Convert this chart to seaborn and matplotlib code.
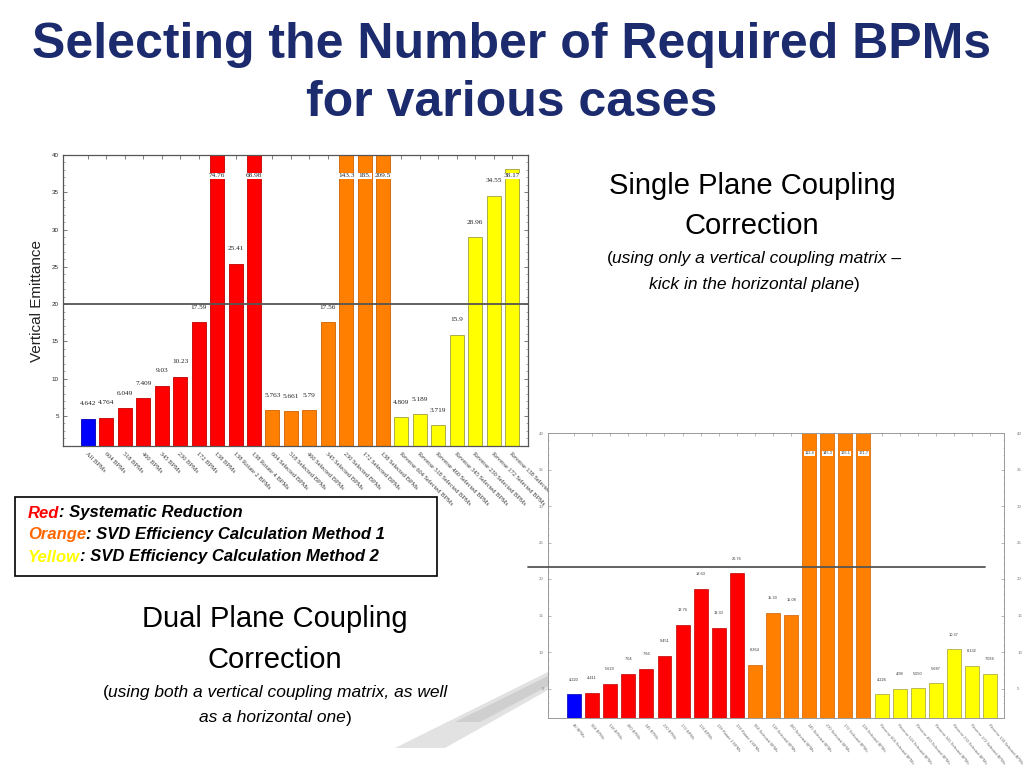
import matplotlib
matplotlib.use("Agg")
import matplotlib.pyplot as plt
import seaborn as sns
import pandas as pd
from matplotlib.patches import Polygon, Rectangle
from matplotlib.ticker import MultipleLocator

sns.set_style("white")
plt.rcParams["font.family"] = ["Liberation Sans", "DejaVu Sans"]

# ---------------- data ----------------
categories = [
    "All BPMs", "604 BPMs", "518 BPMs", "460 BPMs", "345 BPMs", "230 BPMs",
    "172 BPMs", "138 BPMs", "138 Rotate 2 BPMs", "138 Rotate 4 BPMs",
    "604 Selected BPMs", "518 Selected BPMs", "460 Selected BPMs",
    "345 Selected BPMs", "230 Selected BPMs", "172 Selected BPMs",
    "138 Selected BPMs",
    "Reverse 604 Selected BPMs", "Reverse 518 Selected BPMs",
    "Reverse 460 Selected BPMs", "Reverse 345 Selected BPMs",
    "Reverse 230 Selected BPMs", "Reverse 172 Selected BPMs",
    "Reverse 138 Selected BPMs",
]
groups = ["All"] + ["Red"] * 9 + ["Orange"] * 7 + ["Yellow"] * 7

single_values = [4.642, 4.764, 6.049, 7.409, 9.03, 10.23, 17.59, 74.76, 25.41,
                 68.98, 5.763, 5.661, 5.79, 17.56, 143.3, 185.0, 209.5,
                 4.809, 5.189, 3.719, 15.9, 28.96, 34.55, 38.17]
single_labels = ["4.642", "4.764", "6.049", "7.409", "9.03", "10.23", "17.59",
                 "74.76", "25.41", "68.98", "5.763", "5.661", "5.79", "17.56",
                 "143.3", "185.", "209.5", "4.809", "5.189", "3.719", "15.9",
                 "28.96", "34.55", "38.17"]

dual_values = [4.22, 4.411, 5.623, 7.04, 7.66, 9.451, 13.76, 18.63, 13.3,
               20.76, 8.26, 15.33, 15.08, 112.4, 145.3, 165.1, 171.7,
               4.226, 4.98, 5.05, 5.687, 10.37, 8.132, 7.034]
dual_labels = ["4.220", "4.411", "5.623", "7.04", "7.66", "9.451", "13.76",
               "18.63", "13.30", "20.76", "8.264", "15.33", "15.08", "112.4",
               "145.3", "165.1", "171.7", "4.226", "4.98", "5.050", "5.687",
               "10.37", "8.132", "7.034"]

y_range = [1, 40]
y_ticks = [5, 10, 15, 20, 25, 30, 35, 40]
single_threshold = 20
dual_threshold = 21.6

palette = {"All": "#0000ff", "Red": "#ff0000", "Orange": "#ff8000", "Yellow": "#ffff00"}
edges = {"All": "#0000b0", "Red": "#c00000", "Orange": "#d06000", "Yellow": "#a0a040"}

W, H = 1024, 768
fig = plt.figure(figsize=(W / 100, H / 100), dpi=100)


def P(x, y):
    return x / W, 1 - y / H


def color_edges(ax, lw):
    for p in ax.patches:
        hx = matplotlib.colors.to_hex(p.get_facecolor())
        for g, c in palette.items():
            if hx == c:
                p.set_edgecolor(edges[g])
                p.set_linewidth(lw)


# ---------- top chart (single plane) ----------
fam_lab = ["Liberation Serif", "DejaVu Serif"]
ax1 = fig.add_axes([63 / W, 1 - 445.7 / H, (528 - 63) / W, (445.7 - 155) / H])
df1 = pd.DataFrame({"category": categories, "value": single_values, "group": groups})
sns.barplot(data=df1, x="category", y="value", hue="group", order=categories,
            hue_order=["All", "Red", "Orange", "Yellow"], palette=palette,
            dodge=False, width=0.76, saturation=1, legend=False, ax=ax1)
ax1.set_ylim(*y_range)
ax1.set_xlim(-1.36, 23.87)
color_edges(ax1, 0.6)
for i, (v, s) in enumerate(zip(single_values, single_labels)):
    y = min(v + 2.0, 37.2)
    kw = {}
    if v + 2.0 > 37.2:
        kw["bbox"] = dict(boxstyle="square,pad=0.1", fc="white", ec="none")
    ax1.text(i, y, s, ha="center", va="center", fontsize=5.2, family=fam_lab,
             color="#222222", **kw)
ax1.axhline(single_threshold, color="#555555", lw=1.3, zorder=5)
ax1.set_xlabel("")
ax1.set_ylabel("")
ax1.set_yticks(y_ticks)
ax1.yaxis.set_minor_locator(MultipleLocator(1))
ax1.set_xticks(range(len(categories)))
ax1.set_xticklabels(categories, rotation=-45, ha="left", va="top",
                    rotation_mode="anchor", fontsize=4.6, family=fam_lab,
                    color="#333333")
ax1.tick_params(axis="x", which="both", direction="in", top=True, bottom=True,
                length=3, width=0.6, color="#666666", pad=4)
ax1.tick_params(axis="y", which="major", direction="in", left=True, right=True,
                length=3, width=0.6, color="#666666", labelsize=4.5, pad=3)
ax1.tick_params(axis="y", which="minor", direction="in", left=True, right=True,
                length=1.5, width=0.5, color="#888888")
for sp in ax1.spines.values():
    sp.set_color("#555555")
    sp.set_linewidth(0.9)
fig.text(*P(37, 301), "Vertical Emittance", rotation=90, ha="center",
         va="center", fontsize=11, color="#222222")

# ---------- bottom chart (dual plane) ----------
ax2 = fig.add_axes([548 / W, 1 - 717.7 / H, (1004 - 548) / W, (717.7 - 433) / H])
df2 = pd.DataFrame({"category": categories, "value": dual_values, "group": groups})
sns.barplot(data=df2, x="category", y="value", hue="group", order=categories,
            hue_order=["All", "Red", "Orange", "Yellow"], palette=palette,
            dodge=False, width=0.77, saturation=1, legend=False, ax=ax2)
ax2.set_ylim(*y_range)
ax2.set_xlim(-1.44, 23.77)
color_edges(ax2, 0.5)
for i, (v, s) in enumerate(zip(dual_values, dual_labels)):
    y = min(v + 2.0, 37.2)
    kw = {}
    if v + 2.0 > 37.2:
        kw["bbox"] = dict(boxstyle="square,pad=0.15", fc="white", ec="none")
    ax2.text(i, y, s, ha="center", va="center", fontsize=2.8, color="#333333", **kw)
ax2.axhline(dual_threshold, xmin=(528 - 548) / 456, xmax=(985 - 548) / 456,
            color="#555555", lw=1.3, zorder=5, clip_on=False)
ax2.set_xlabel("")
ax2.set_ylabel("")
ax2.set_yticks(y_ticks)
ax2.yaxis.set_minor_locator(MultipleLocator(1))
ax2.set_xticks(range(len(categories)))
ax2.set_xticklabels(categories, rotation=-50, ha="left", va="top",
                    rotation_mode="anchor", fontsize=2.9, color="#666666")
ax2.tick_params(axis="x", which="both", direction="in", top=True, bottom=True,
                length=2, width=0.5, color="#999999", pad=4)
ax2.tick_params(axis="y", which="major", direction="in", left=True, right=True,
                labelright=True, length=2, width=0.5, color="#999999",
                labelsize=3.2, labelcolor="#777777", pad=3)
ax2.tick_params(axis="y", which="minor", direction="in", left=True, right=True,
                length=1, width=0.4, color="#aaaaaa")
for sp in ax2.spines.values():
    sp.set_color("#999999")
    sp.set_linewidth(0.7)
# right-hand labels sit near the slide edge
for tick in ax2.yaxis.get_major_ticks():
    tick.label2.set_x(1.0 + 9 / 456)
    tick.label2.set_ha("left")

# decorative grey swoosh behind the lower chart
fig.patches.append(Polygon([P(395, 748), P(548, 672), P(548, 690), P(445, 748)],
                           closed=True, transform=fig.transFigure,
                           facecolor="#e2e2e2", edgecolor="none", zorder=-1))
fig.patches.append(Polygon([P(455, 722), P(548, 676), P(548, 686), P(480, 722)],
                           closed=True, transform=fig.transFigure,
                           facecolor="#cfcfcf", edgecolor="none", zorder=-1))

# ---------- title ----------
title_color = "#1c2b6e"
fig.text(*P(512, 45), "Selecting the Number of Required BPMs", ha="center",
         va="center", fontsize=36, fontweight="bold", color=title_color)
fig.text(*P(512, 103), "for various cases", ha="center", va="center",
         fontsize=36, fontweight="bold", color=title_color)

renderer = fig.canvas.get_renderer()


def segments(parts, x, y, size, align="left"):
    """parts: list of (text, color, style, weight)"""
    texts, widths = [], []
    for s, c, st, wt in parts:
        t = fig.text(0, 0, s, fontsize=size, color=c, style=st, fontweight=wt,
                     va="center", ha="left")
        widths.append(t.get_window_extent(renderer).width)
        texts.append(t)
    total = sum(widths)
    x0 = x - total / 2 if align == "center" else x
    for t, w in zip(texts, widths):
        t.set_position(P(x0, y))
        x0 += w


# legend box
fig.patches.append(Rectangle(P(15, 576), (437 - 15) / W, (576 - 497) / H,
                             transform=fig.transFigure, fill=False,
                             edgecolor="black", lw=1.2, zorder=3))
segments([("Red", "#ff0000", "italic", "bold"),
          (": Systematic Reduction", "black", "italic", "bold")], 28, 513, 12)
segments([("Orange", "#ff6600", "italic", "bold"),
          (": SVD Efficiency Calculation Method 1", "black", "italic", "bold")],
         28, 535, 12)
segments([("Yellow", "#ffff00", "italic", "bold"),
          (": SVD Efficiency Calculation Method 2", "black", "italic", "bold")],
         28, 557, 12)

# single plane caption
fig.text(*P(752, 186), "Single Plane Coupling", ha="center", va="center",
         fontsize=21, color="black")
fig.text(*P(752, 226), "Correction", ha="center", va="center", fontsize=21,
         color="black")
segments([("(", "black", "normal", "normal"),
          ("using only a vertical coupling matrix \u2013", "black", "italic", "normal")],
         754, 259, 12.5, align="center")
segments([("kick in the horizontal plane", "black", "italic", "normal"),
          (")", "black", "normal", "normal")], 754, 284, 12.5, align="center")

# dual plane caption
fig.text(*P(275, 619), "Dual Plane Coupling", ha="center", va="center",
         fontsize=21, color="black")
fig.text(*P(275, 660), "Correction", ha="center", va="center", fontsize=21,
         color="black")
segments([("(", "black", "normal", "normal"),
          ("using both a vertical coupling matrix, as well", "black", "italic", "normal")],
         275, 692, 12.5, align="center")
segments([("as a horizontal one", "black", "italic", "normal"),
          (")", "black", "normal", "normal")], 275, 718, 12.5, align="center")

fig.savefig("out.png", dpi=100, facecolor="white")
